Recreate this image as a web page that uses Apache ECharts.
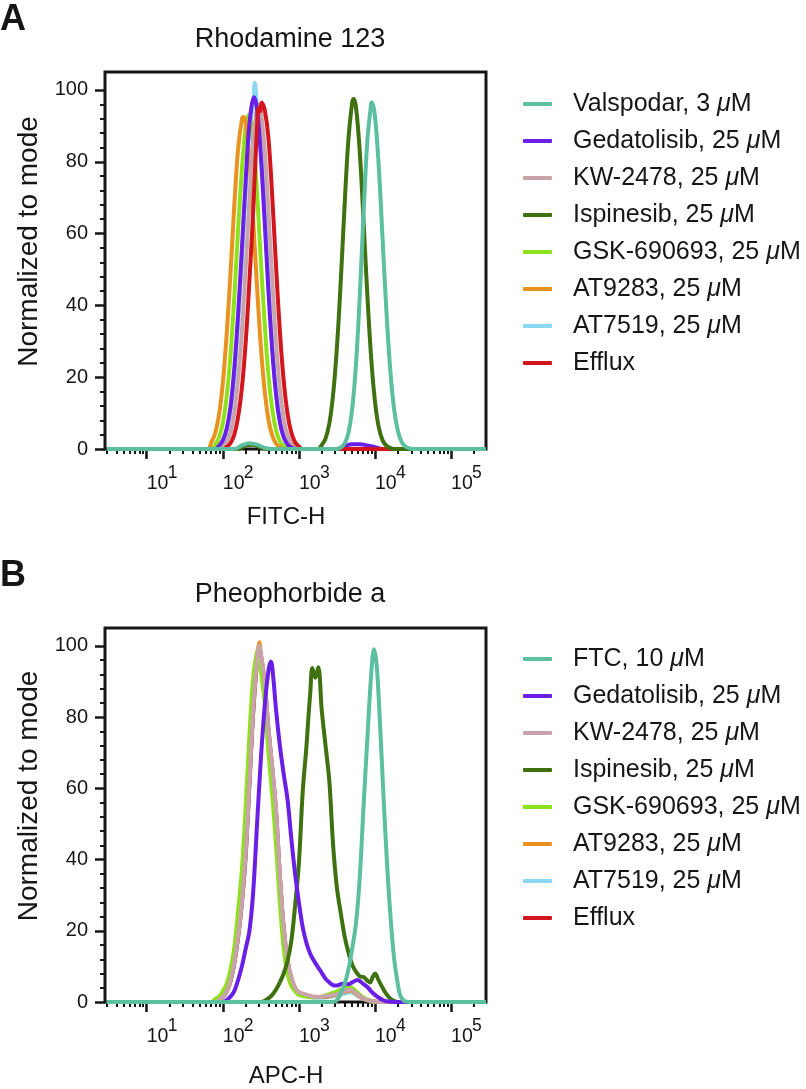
<!DOCTYPE html>
<html><head><meta charset="utf-8">
<script src="https://cdn.jsdelivr.net/npm/echarts@6/dist/echarts.min.js"></script>
<style>html,body{margin:0;padding:0;background:#fff}#c{width:806px;height:1089px}</style>
</head><body><div id="c"></div>
<script>
const FONT = '"Liberation Sans", Arial, Helvetica, sans-serif';
const INK = '#161616';

// axis ranges and tick labels
const xMin = 2.83, xMax = 287700;
const yMin = 0, yMax = 105;
const yTickLabels = [0, 20, 40, 60, 80, 100];
const yMinorTicks = [4, 8, 12, 16, 24, 28, 32, 36, 44, 48, 52, 56, 64, 68, 72, 76, 84, 88, 92, 96];
const xTickExponents = [1, 2, 3, 4, 5];
const xTickBase = '10';
const panelTitles = ['Rhodamine 123', 'Pheophorbide a'];
const panelLetters = ['A', 'B'];
const xAxisNames = ['FITC-H', 'APC-H'];
const yAxisName = 'Normalized to mode';

// legend entries (in legend order)
const legendA = ['Valspodar, 3 μM', 'Gedatolisib, 25 μM', 'KW-2478, 25 μM', 'Ispinesib, 25 μM', 'GSK-690693, 25 μM', 'AT9283, 25 μM', 'AT7519, 25 μM', 'Efflux'];
const legendB = ['FTC, 10 μM', 'Gedatolisib, 25 μM', 'KW-2478, 25 μM', 'Ispinesib, 25 μM', 'GSK-690693, 25 μM', 'AT9283, 25 μM', 'AT7519, 25 μM', 'Efflux'];

const colorByName = {
  'Valspodar, 3 μM': '#5cbf9f',
  'FTC, 10 μM': '#5cbf9f',
  'Gedatolisib, 25 μM': '#6a1fe6',
  'KW-2478, 25 μM': '#c9a3ab',
  'Ispinesib, 25 μM': '#3f7110',
  'GSK-690693, 25 μM': '#8ee21c',
  'AT9283, 25 μM': '#e8921f',
  'AT7519, 25 μM': '#8ad8f2',
  'Efflux': '#d2161d'
};

// ---- Panel A: Rhodamine 123, [FITC-H, % of mode] ----
const rhoAT7519 = [[3,0],[79.4,0],[89.1,0.7],[100,2],[112,4.8],[126,10.3],[141,19.8],[158,34],[178,52.5],[200,72],[224,88.5],[251,96.5],[263,102],[282,95],[316,83.5],[355,65.5],[398,46],[447,28.8],[501,16.2],[562,8.1],[631,3.6],[708,1.4],[794,0.5],[891,0],[287700,0]];
const rhoGSK = [[3,0],[70.8,0],[79.4,1.2],[89.1,3.2],[100,7.2],[112,14.3],[126,25.9],[141,41.7],[158,60.2],[178,77.7],[200,89.7],[219,93],[251,85.8],[282,71.1],[316,52.6],[355,34.9],[398,20.7],[447,11],[501,5.2],[562,2.2],[631,0.8],[708,0.2],[794,0],[287700,0]];
const rhoAT9283 = [[3,0],[63.1,0],[70.8,1.9],[79.4,4.4],[89.1,9.5],[100,18.3],[112,31.5],[126,48.7],[141,67.2],[158,83],[178,91.7],[186,92.5],[200,90.7],[224,80.3],[251,63.5],[282,45],[316,28.6],[355,16.2],[398,8.2],[447,3.7],[501,1.5],[562,0.5],[631,0],[287700,0]];
const rhoKW = [[3,0],[89.1,0],[100,0.7],[112,1.9],[126,4.6],[141,9.9],[158,19],[178,32.7],[200,50.5],[224,69.7],[251,86.1],[282,95.1],[295,96],[316,94.1],[355,83.3],[398,66],[447,46.8],[501,29.7],[562,16.8],[631,8.5],[708,3.8],[794,1.5],[891,0.5],[1000,0],[287700,0]];
const rhoGedatolisib = [[3,0],[79.4,0],[89.1,0.9],[100,2.4],[112,5.5],[126,11.6],[141,21.9],[158,36.8],[178,55.5],[200,74.9],[224,90.5],[257,98],[282,94.6],[316,81.8],[355,63.4],[398,43.9],[447,27.2],[501,15.1],[562,7.5],[631,3.3],[708,1.3],[794,0.4],[891,0],[3162,0],[3981,0.8],[5012,1.3],[6310,1.3],[7943,1],[10000,0.5],[12590,0],[287700,0]];
const rhoEfflux = [[3,0],[100,0],[112,0.5],[126,1.6],[141,3.9],[158,8.6],[178,16.9],[200,29.8],[224,47],[251,66.3],[282,90],[295,95],[310,94],[324,96.5],[355,94.5],[398,86.6],[447,70.1],[501,50.8],[562,32.9],[631,19.1],[708,9.9],[794,4.6],[891,1.9],[1000,0.7],[1122,0],[287700,0]];
const rhoIspinesib = [[3,0],[158,0],[200,1],[251,1.2],[316,0.4],[398,0],[1778,0],[1995,1.1],[2239,2.9],[2512,7.1],[2818,15.2],[3162,28.4],[3548,46.6],[3981,67.6],[4467,86],[5012,96.5],[5248,97.5],[5623,95.3],[6310,82.8],[7079,63.4],[7943,42.7],[8913,25.3],[10000,13.2],[11220,6],[12590,2.4],[14130,0.9],[15850,0.3],[17780,0],[287700,0]];
const rhoValspodar = [[3,0],[141,0],[178,1],[224,1.6],[282,1.2],[355,0.3],[447,0],[3162,0],[3548,0.4],[3981,1.5],[4467,4.4],[5012,11.1],[5623,23.5],[6310,42.6],[7079,65.5],[7943,86],[8913,96.2],[9120,96.5],[10000,92.6],[11220,78.5],[12590,58.5],[14130,38.4],[15850,22.2],[17780,11.3],[19950,5.1],[22390,2],[25120,0.7],[28180,0.2],[31620,0],[287700,0]];

// ---- Panel B: Pheophorbide a, [APC-H, % of mode] ----
const pheoAT7519 = [[3,0],[79.4,0],[89.1,0.4],[100,1.3],[112,2.8],[126,5.7],[141,10.5],[158,17.5],[178,27.5],[200,41],[224,61],[251,81],[282,95],[302,99],[316,97],[355,89],[398,76],[447,65],[501,53],[562,35],[631,20.5],[708,11.5],[794,6.5],[891,3.8],[1000,2.5],[1259,1.7],[1585,1.2],[1995,1.2],[2512,1.4],[3162,1.8],[3981,2.4],[4786,2.7],[5623,2],[7079,0.8],[8913,0.2],[11220,0],[287700,0]];
const pheoEfflux = [[3,0],[79.4,0],[89.1,0.5],[100,1.4],[112,2.9],[126,5.8],[141,10.8],[158,17.8],[178,27.8],[200,41.5],[224,61.5],[251,81.5],[282,95.5],[302,99.5],[316,97.5],[355,89.5],[398,76.5],[447,65.5],[501,53.5],[562,35.5],[631,20.8],[708,11.8],[794,6.8],[891,3.9],[1000,2.7],[1259,1.9],[1585,1.4],[1995,1.4],[2512,1.7],[3162,2.3],[3981,3.2],[4786,3.8],[5623,2.7],[7079,1],[8913,0.3],[11220,0],[287700,0]];
const pheoAT9283 = [[3,0],[79.4,0],[89.1,0.6],[100,1.6],[112,3.2],[126,6.5],[141,11.5],[158,19],[178,29.5],[200,44],[224,64],[251,84],[282,97],[302,101],[316,97],[355,88],[398,75],[447,63],[501,51],[562,34],[631,20],[708,11],[794,6.5],[891,3.8],[1000,2.6],[1259,1.9],[1585,1.4],[1995,1.4],[2512,1.7],[3162,2.1],[3981,2.8],[4786,3.2],[5623,2.3],[7079,0.9],[8913,0.3],[11220,0],[287700,0]];
const pheoGSK = [[3,0],[70.8,0],[79.4,0.8],[89.1,1.5],[100,3],[112,5],[126,9],[141,15],[158,25],[178,37],[200,55],[224,75],[251,91],[288,99],[316,93],[355,84],[398,70],[447,58],[501,44],[562,28],[631,15],[708,8],[794,4.5],[891,3],[1000,2],[1259,1.5],[1585,1.3],[1995,1.5],[2512,2.2],[3162,3],[3981,4],[4467,4.4],[5012,4],[6310,2],[7943,0.6],[10000,0],[287700,0]];
const pheoKW = [[3,0],[79.4,0],[89.1,0.5],[100,1.5],[112,3],[126,6],[141,11],[158,18],[178,28],[200,42],[224,62],[251,82],[282,96],[302,100],[316,98],[355,90],[398,77],[447,66],[501,54],[562,36],[631,21],[708,12],[794,7],[891,4],[1000,2.8],[1259,2],[1585,1.5],[1995,1.5],[2512,1.8],[3162,2.2],[3981,3],[4786,3.5],[5623,2.5],[7079,1],[8913,0.3],[11220,0],[287700,0]];
const pheoIspinesib = [[3,0],[316,0],[355,0.3],[398,1],[447,2],[501,3.5],[562,5.5],[631,8],[708,11.5],[794,17],[891,27],[1000,39],[1122,59],[1259,72],[1334,80],[1413,87],[1500,93.8],[1641,91],[1799,94],[1995,82],[2239,72],[2512,62],[2818,44],[3162,32],[3548,25],[3981,18.5],[4467,14],[5012,10.5],[5623,8.5],[6310,7.2],[7079,7],[7943,6],[8610,5.5],[9333,7],[10000,8],[11220,6],[12590,4],[14130,2.2],[15850,1],[17780,0.3],[19950,0],[287700,0]];
const pheoGedatolisib = [[3,0],[100,0],[112,0.5],[126,1.5],[141,3],[158,6],[178,10],[200,15],[224,20],[251,31],[282,50],[316,68],[355,83],[398,93],[427,95.6],[447,94],[501,82],[562,72],[631,64],[708,57],[794,46],[891,36],[1000,28],[1122,21],[1259,16.5],[1413,13.5],[1585,11.5],[1778,9.8],[1995,8.2],[2239,6.5],[2512,5.5],[2818,4.7],[3162,4.6],[3548,5],[3981,5.2],[4467,5],[5012,5.5],[5888,6.2],[7079,5],[7943,4.2],[8913,3],[10000,2],[11220,1.2],[12590,0.6],[14130,0.2],[17780,0],[287700,0]];
const pheoFTC = [[3,0],[2818,0],[3162,0.5],[3467,2],[3981,5],[4467,9],[5012,15],[5623,22],[6310,35],[7079,55],[7943,74],[8913,92],[9705,99],[10470,95],[11220,85],[12590,63],[14130,42],[15850,25],[17780,12.5],[19950,5],[21380,2],[23990,0.3],[28180,0],[287700,0]];

// draw order (bottom to top)
const panelASeries = [
  ['AT7519, 25 μM', rhoAT7519], ['GSK-690693, 25 μM', rhoGSK], ['AT9283, 25 μM', rhoAT9283],
  ['KW-2478, 25 μM', rhoKW], ['Gedatolisib, 25 μM', rhoGedatolisib], ['Efflux', rhoEfflux],
  ['Ispinesib, 25 μM', rhoIspinesib], ['Valspodar, 3 μM', rhoValspodar]
];
const panelBSeries = [
  ['AT7519, 25 μM', pheoAT7519], ['Efflux', pheoEfflux], ['AT9283, 25 μM', pheoAT9283],
  ['GSK-690693, 25 μM', pheoGSK], ['KW-2478, 25 μM', pheoKW], ['Ispinesib, 25 μM', pheoIspinesib],
  ['Gedatolisib, 25 μM', pheoGedatolisib], ['FTC, 10 μM', pheoFTC]
];

// ---------- build option ----------
const grids = [
  {left: 105, top: 72, width: 381, height: 377},
  {left: 105, top: 628, width: 381, height: 378}
];
const xNameGaps = [56, 62];
const lgMin = Math.log10(xMin), lgMax = Math.log10(xMax);
const xMinorTicks = [];
for (let n = 0; n <= 5; n++) for (let k = 2; k <= 9; k++) {
  const v = Math.log10(k) + n;
  if (v > lgMin && v < lgMax) xMinorTicks.push(v);
}

const xAxes = [], yAxes = [], series = [];
[0, 1].forEach(function (g) {
  // data axis (log scale)
  xAxes.push({type: 'log', logBase: 10, gridIndex: g, min: xMin, max: xMax, show: false});
  // major ticks + "10" base of the decade labels (positions in decades)
  xAxes.push({
    type: 'value', gridIndex: g, min: lgMin, max: lgMax, position: 'bottom',
    axisLine: {show: false}, splitLine: {show: false},
    axisTick: {show: true, customValues: xTickExponents, length: 10, lineStyle: {color: INK, width: 2.5}},
    axisLabel: {
      show: true, customValues: xTickExponents, align: 'left', margin: 25,
      fontSize: 19.5, fontFamily: FONT, color: INK,
      formatter: function () { return xTickBase; }
    },
    name: xAxisNames[g], nameLocation: 'middle', nameGap: xNameGaps[g],
    nameTextStyle: {fontSize: 24, fontFamily: FONT, color: INK, padding: [0, 19, 0, 0]}
  });
  // minor ticks + exponent (superscript) labels
  xAxes.push({
    type: 'value', gridIndex: g, min: lgMin, max: lgMax, position: 'bottom',
    axisLine: {show: false}, splitLine: {show: false},
    axisLabel: {
      show: true, customValues: xTickExponents, align: 'left', margin: 15,
      fontSize: 17.5, fontFamily: FONT, color: INK, padding: [0, 0, 0, 21],
      formatter: function (v) { return String(Math.round(v)); }
    },
    axisTick: {show: true, customValues: xMinorTicks, length: 5, lineStyle: {color: INK, width: 2}}
  });
  yAxes.push({
    type: 'value', gridIndex: g, min: yMin, max: yMax, position: 'left',
    axisLine: {show: false}, splitLine: {show: false},
    axisTick: {show: true, customValues: yTickLabels, length: 10, lineStyle: {color: INK, width: 2.5}},
    axisLabel: {show: true, customValues: yTickLabels, margin: 17, fontSize: 20, fontFamily: FONT, color: INK},
    name: yAxisName, nameLocation: 'middle', nameGap: 62,
    nameTextStyle: {fontSize: 28, fontFamily: FONT, color: INK, padding: [0, 0, 0, 38]}
  });
  yAxes.push({
    type: 'value', gridIndex: g, min: yMin, max: yMax, position: 'left',
    axisLine: {show: false}, splitLine: {show: false}, axisLabel: {show: false},
    axisTick: {show: true, customValues: yMinorTicks, length: 5, lineStyle: {color: INK, width: 2}}
  });
});

function addSeries(list, g) {
  list.forEach(function (item) {
    const c = colorByName[item[0]];
    series.push({
      type: 'line', name: item[0], data: item[1],
      xAxisIndex: g * 3, yAxisIndex: g * 2,
      showSymbol: false, symbol: 'none', smooth: 0.35,
      lineStyle: {width: 4, color: c}, itemStyle: {color: c},
      emphasis: {disabled: true}
    });
  });
}
addSeries(panelASeries, 0);
addSeries(panelBSeries, 1);

function legendFmt(name) {
  return name.split('μ').map(function (s) { return '{t|' + s + '}'; }).join('{mu|μ}');
}
function makeLegend(names, top) {
  return {
    orient: 'vertical', left: 523, top: top, padding: 0,
    itemWidth: 29, itemHeight: 4, itemGap: 7, icon: 'roundRect',
    selectedMode: false, data: names, formatter: legendFmt,
    textStyle: {
      fontSize: 25, fontFamily: FONT, color: INK, lineHeight: 30, padding: [0, 0, 0, 16],
      rich: {
        t: {fontSize: 25, fontFamily: FONT, color: INK, lineHeight: 30},
        mu: {fontSize: 25, fontFamily: FONT, color: INK, lineHeight: 30, fontStyle: 'italic'}
      }
    }
  };
}

const graphics = [
  {type: 'text', left: 0, top: 2, style: {text: panelLetters[0], font: 'bold 36px ' + FONT, fill: INK}},
  {type: 'text', left: 0, top: 558, style: {text: panelLetters[1], font: 'bold 36px ' + FONT, fill: INK}},
  {type: 'text', x: 290, y: 40, style: {text: panelTitles[0], font: '27px ' + FONT, fill: INK, align: 'center', verticalAlign: 'middle'}},
  {type: 'text', x: 290, y: 595, style: {text: panelTitles[1], font: '27px ' + FONT, fill: INK, align: 'center', verticalAlign: 'middle'}}
];

const chart = echarts.init(document.getElementById('c'), null, {renderer: 'canvas'});
chart.setOption({
  animation: false,
  backgroundColor: '#ffffff',
  grid: grids.map(function (g) { return Object.assign({show: true, borderWidth: 3, borderColor: INK, backgroundColor: 'transparent'}, g); }),
  xAxis: xAxes,
  yAxis: yAxes,
  legend: [makeLegend(legendA, 89), makeLegend(legendB, 644)],
  graphic: graphics,
  series: series
});
</script>
</body></html>
